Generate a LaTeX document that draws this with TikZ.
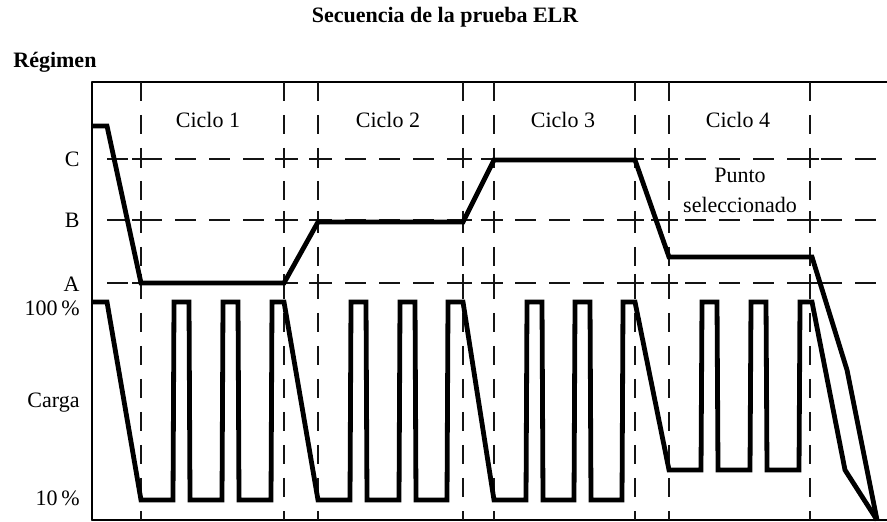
\documentclass[tikz,border=0pt]{standalone}
\usepackage{fontspec}
\setmainfont{Liberation Serif}
\usepackage{tkz-euclide}
\definecolor{CurveClr}{rgb}{0,0,0}
\definecolor{GridClr}{rgb}{0.08,0.08,0.08}
\tikzset{
  gridv/.style={line width=0.7pt,color=GridClr,dash pattern=on 9.5pt off 7pt},
  gridh/.style={line width=0.7pt,color=GridClr,dash pattern=on 10.5pt off 6.5pt},
  gridcross/.style={line width=0.7pt,color=GridClr},
  curve/.style={line width=2.4pt,color=CurveClr},
  lbl/.style={anchor=east,inner sep=0pt},
  cyc/.style={inner sep=0pt}
}

\begin{document}
\begin{tikzpicture}[x=0.5pt,y=-0.5pt,font=\fontsize{11}{15}\selectfont]
\useasboundingbox (0,0) rectangle (887,522);
\tkzSetUpLine[line width=0.8pt,color=black]

\tkzDefPoints{92/82/O,887/82/T,92/520/L,887/520/R}
\tkzDrawSegments(O,T O,L L,R)

\foreach \gx in {141,284,318,463,494,635,669,810}
  \draw[gridv] (\gx,82) -- (\gx,520);
\foreach \gy in {159,220,283}
  \draw[gridh] (107,\gy) -- (887,\gy);
\foreach \gx in {141,284,318,463,494,635,669,810}
  \foreach \gy in {159,220,283}
    \draw[gridcross] (\gx-9,\gy) -- (\gx+9,\gy) (\gx,\gy-9) -- (\gx,\gy+9);

\draw[curve] (92,126) -- (107,126) -- (141,283) -- (284,283) -- (318,222) -- (463,222)
  -- (494,160) -- (635,160) -- (669,257) -- (812,257) -- (847,370) -- (877,520);

\draw[curve] (92,302) -- (107,302) -- (141,500)
  -- (173,500) -- (174,302) -- (189,302) -- (190,500)
  -- (222,500) -- (223,302) -- (238,302) -- (239,500)
  -- (271,500) -- (272,302) -- (284,302) -- (318,500)
  -- (350,500) -- (351,302) -- (366,302) -- (367,500)
  -- (399,500) -- (400,302) -- (415,302) -- (416,500)
  -- (447,500) -- (448,302) -- (463,302) -- (494,500)
  -- (526,500) -- (527,302) -- (542,302) -- (543,500)
  -- (574,500) -- (575,302) -- (590,302) -- (591,500)
  -- (622,500) -- (623,302) -- (635,302) -- (669,470)
  -- (701,470) -- (702,302) -- (717,302) -- (718,470)
  -- (750,470) -- (751,302) -- (766,302) -- (767,470)
  -- (799,470) -- (800,302) -- (812,302) -- (845,470) -- (877,520);

\node[font=\fontsize{11}{15}\selectfont\bfseries] (title) at (445,17) {Secuencia de la prueba ELR};
\node[font=\fontsize{11}{15}\selectfont\bfseries,anchor=west,inner sep=0pt] (regimen) at (13,62) {Régimen};

\node[lbl] (lC) at (80,159) {C};
\node[lbl] (lB) at (80,220) {B};
\node[lbl] (lA) at (80,284) {A};
\node[lbl] (l100) at (80,308) {100\,\%};
\node[lbl] (lcarga) at (80,403) {Carga};
\node[lbl] (l10) at (80,498) {10\,\%};

\node[cyc] (c1) at (208,120) {Ciclo 1};
\node[cyc] (c2) at (388,120) {Ciclo 2};
\node[cyc] (c3) at (563,120) {Ciclo 3};
\node[cyc] (c4) at (738,120) {Ciclo 4};
\node[cyc,align=center] (punto) at (740,190) {Punto\\seleccionado};

\end{tikzpicture}
\end{document}
